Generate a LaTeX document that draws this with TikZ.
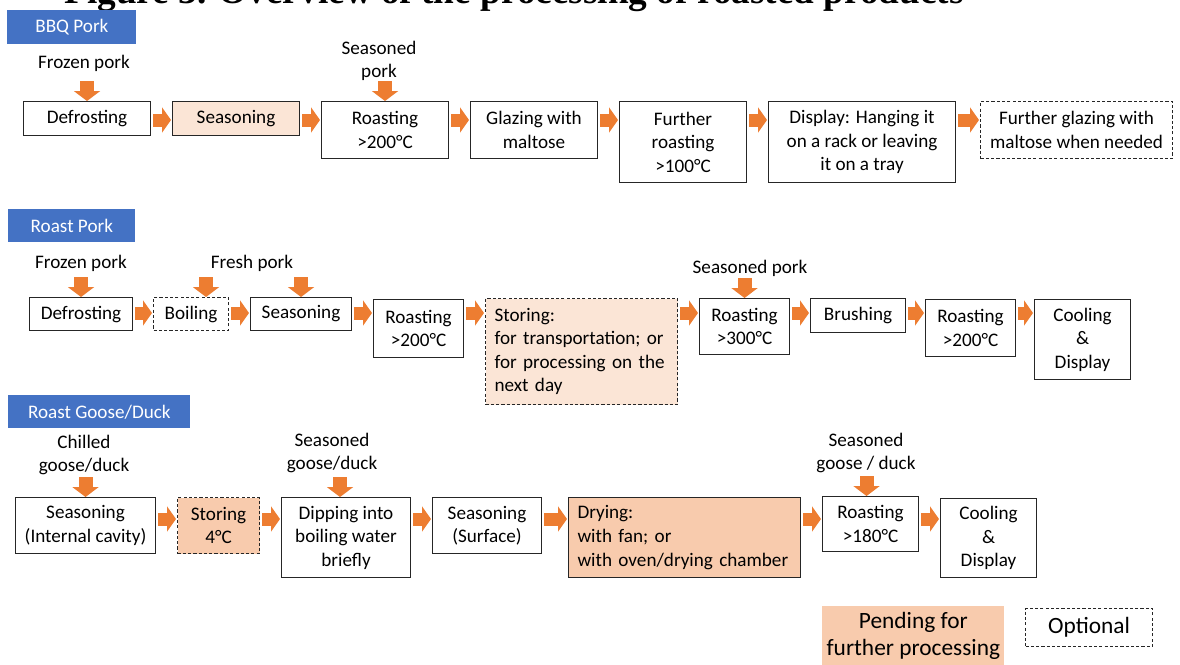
\documentclass[tikz,border=0pt]{standalone}
\usepackage{fontspec}
\setmainfont{Carlito}
\newfontfamily\titlefont{Liberation Serif}
\usetikzlibrary{arrows.meta}
\definecolor{boxblue}{HTML}{4472C4}
\definecolor{floworange}{HTML}{ED7D31}
\definecolor{peachL}{HTML}{FBE5D6}
\definecolor{peachM}{HTML}{F8CBAD}

\begin{document}
\begin{tikzpicture}[x=0.02cm, y=-0.02cm,
	font=\fontsize{10.9}{13.4}\selectfont,
	size/.style 2 args={minimum width=#1*\px, minimum height=#2*\px},
	stepbox/.style={draw=black!85, line width=0.6pt, inner sep=0pt, anchor=north west, align=center},
	optbox/.style={stepbox, dash pattern=on 1.8pt off 1.2pt},
	pendL/.style={fill=peachL},
	pendM/.style={fill=peachM},
	product/.style={fill=boxblue, text=white, inner sep=0pt, anchor=north west},
	inlabel/.style={align=center, inner sep=0pt},
	flow/.style={draw=floworange, line width=0.26cm, -{Triangle[length=0.18cm, width=0.5cm]}, shorten <=0.04cm, shorten >=0.02cm},
	feed/.style={draw=floworange, line width=0.28cm, -{Triangle[length=0.2cm, width=0.52cm]}},
	keytext/.style={font=\fontsize{13.3}{15.4}\selectfont}]
	
	\def\px{0.02cm} % one pixel of the reference
	
	\useasboundingbox (0,0) rectangle (1180,664);
	
	% title, cut at the top edge
	\node[anchor=base west, inner sep=0pt, font=\titlefont\bfseries\fontsize{21.2}{25}\selectfont] (title) at (64,3) {Figure 3. Overview of the processing of roasted products};
	
	% BBQ pork
	\node[product, size={129}{34}] (bbq) at (7,10) {BBQ Pork};
	\node[stepbox, size={127}{34}] (defrostA) at (23,101) {Defrosting};
	\node[stepbox, pendL, size={127}{34}] (seasonA) at (172,101) {Seasoning};
	\node[stepbox, size={127}{57}] (roastA) at (321,101) {Roasting\\>200°C};
	\node[stepbox, size={127}{57}] (glazeA) at (470,101) {Glazing with\\maltose};
	\node[stepbox, size={127}{81}] (furtherA) at (619,101) {Further\\roasting\\>100°C};
	\node[stepbox, size={187}{81}] (displayA) at (768,101) {Display: Hanging it\\on a rack or leaving\\it on a tray};
	\node[optbox, size={192}{57}] (reglazeA) at (980,101) {Further glazing with\\maltose when needed};
	
	\node[inlabel] (frozenA) at (84,63) {Frozen pork};
	\node[inlabel] (seasonedA) at (379,61) {Seasoned\\pork};
	
	\coordinate (rowA) at (0,120);
	\foreach \a/\b in {defrostA/seasonA, seasonA/roastA, roastA/glazeA, glazeA/furtherA, furtherA/displayA, displayA/reglazeA}
		\draw[flow] (\a.east |- rowA) -- (\b.west |- rowA);
	\draw[feed] ([yshift=20*\px]defrostA.north) -- (defrostA.north);
	\draw[feed] ([yshift=20*\px]roastA.north) -- (roastA.north);
	
	% roast pork
	\node[product, size={127}{33}] (roastpork) at (8,209) {Roast Pork};
	\node[stepbox, size={103}{33}] (defrostB) at (29,297) {Defrosting};
	\node[optbox, size={75}{33}] (boilB) at (153,297) {Boiling};
	\node[stepbox, size={101}{33}] (seasonB) at (250,297) {Seasoning};
	\node[stepbox, size={90}{58}] (roastB) at (373,299) {Roasting\\>200°C};
	\node[optbox, pendL, size={192}{106}, align=left, text width=3.48cm, inner xsep=0.18cm] (storeB) at (485,298) {Storing:\\for transportation; or\\for processing on the\\next day};
	\node[stepbox, size={90}{56}] (hotB) at (699,298) {Roasting\\>300°C};
	\node[stepbox, size={95}{34}] (brushB) at (810,298) {Brushing};
	\node[stepbox, size={90}{57}] (finalB) at (925,299) {Roasting\\>200°C};
	\node[stepbox, size={96}{80}] (coolB) at (1034,299) {Cooling\\\&\\Display};
	
	\node[inlabel] (frozenB) at (81,263) {Frozen pork};
	\node[inlabel] (freshB) at (252,263) {Fresh pork};
	\node[inlabel] (seasonedB) at (750,268) {Seasoned pork};
	
	\coordinate (rowB) at (0,313);
	\foreach \a/\b in {defrostB/boilB, boilB/seasonB, seasonB/roastB, roastB/storeB, storeB/hotB, hotB/brushB, brushB/finalB, finalB/coolB}
		\draw[flow] (\a.east |- rowB) -- (\b.west |- rowB);
	\draw[feed] ([yshift=20*\px]defrostB.north) -- (defrostB.north);
	\draw[feed] ([xshift=15*\px, yshift=20*\px]boilB.north) -- ([xshift=15*\px]boilB.north);
	\draw[feed] ([yshift=20*\px]seasonB.north) -- (seasonB.north);
	\draw[feed] ([yshift=20*\px]hotB.north) -- (hotB.north);
	
	% roast goose / duck
	\node[product, size={182}{33}] (goose) at (8,395) {Roast Goose/Duck};
	\node[stepbox, size={140}{56}] (cavityC) at (15,497) {Seasoning\\(Internal cavity)};
	\node[optbox, pendM, size={82}{56}] (chillC) at (177,497) {Storing\\4°C};
	\node[stepbox, size={129}{80}] (dipC) at (281,497) {Dipping into\\boiling water\\briefly};
	\node[stepbox, size={109}{56}] (surfaceC) at (432,497) {Seasoning\\(Surface)};
	\node[stepbox, pendM, size={232}{80}, align=left, text width=4.28cm, inner xsep=0.18cm] (dryC) at (568,497) {Drying:\\with fan; or\\with oven/drying chamber};
	\node[stepbox, size={96}{55}] (roastC) at (822,496) {Roasting\\>180°C};
	\node[stepbox, size={96}{79}] (coolC) at (940,498) {Cooling\\\&\\Display};
	
	\node[inlabel] (chilledC) at (84,455) {Chilled\\goose/duck};
	\node[inlabel] (seasonedC) at (332,453) {Seasoned\\goose/duck};
	\node[inlabel] (seasonedD) at (866,453) {Seasoned\\goose / duck};
	
	\coordinate (rowC) at (0,519);
	\foreach \a/\b in {cavityC/chillC, chillC/dipC, dipC/surfaceC, surfaceC/dryC, dryC/roastC, roastC/coolC}
		\draw[flow] (\a.east |- rowC) -- (\b.west |- rowC);
	\draw[feed] ([yshift=20*\px]cavityC.north) -- (cavityC.north);
	\draw[feed] ([xshift=-6*\px, yshift=20*\px]dipC.north) -- ([xshift=-6*\px]dipC.north);
	\draw[feed] ([xshift=-4*\px, yshift=20*\px]roastC.north) -- ([xshift=-4*\px]roastC.north);
	
	% key
	\node[pendM, keytext, anchor=north west, inner sep=0pt, align=center, size={182}{60}] (keypend) at (822,606) {Pending for\\further processing};
	\node[optbox, keytext, size={127}{38}] (keyopt) at (1025,608) {Optional};
	
\end{tikzpicture}
\end{document}
